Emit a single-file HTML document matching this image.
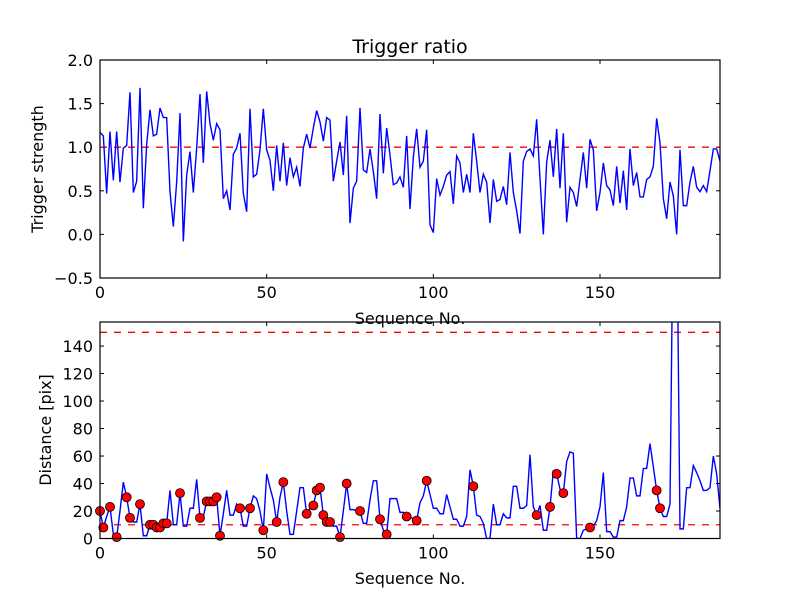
<!DOCTYPE html>
<html><head><meta charset="utf-8">
<style>
html,body{margin:0;padding:0;background:#fff;}
svg{display:block;font-family:"DejaVu Sans","Liberation Sans",sans-serif;}
</style></head>
<body>
<svg id="chart" width="800" height="600" viewBox="0 0 800 600" xmlns="http://www.w3.org/2000/svg">
<rect x="0" y="0" width="800" height="600" fill="#fff"/>
<g id="top"></g>
<g id="bot"></g>
</svg>
<script>
const ratioValues = [1.17,1.13,0.47,1.18,0.62,1.18,0.6,0.99,1.02,1.63,0.48,0.61,1.68,0.3,1.03,1.43,1.13,1.15,1.45,1.34,1.34,0.49,0.09,0.6,1.39,-0.08,0.68,0.95,0.48,0.99,1.61,0.82,1.64,1.27,1.08,1.27,1.2,0.41,0.5,0.28,0.92,0.99,1.16,0.47,0.26,1.44,0.66,0.69,0.97,1.44,0.97,0.85,0.5,1.02,0.61,1.05,0.56,0.88,0.66,0.77,0.55,0.99,1.15,0.99,1.22,1.42,1.29,1.07,1.34,1.31,0.61,0.84,1.06,0.68,1.36,0.13,0.53,0.61,1.45,0.74,0.71,0.98,0.72,0.41,1.38,0.7,1.22,0.91,0.57,0.59,0.66,0.54,1.13,0.29,0.89,1.21,0.77,0.84,1.2,0.11,0.02,0.64,0.45,0.55,0.68,0.72,0.35,0.9,0.82,0.48,0.69,0.48,1.16,0.84,0.48,0.69,0.6,0.13,0.63,0.38,0.4,0.55,0.34,0.94,0.48,0.27,0.01,0.84,0.95,0.98,0.9,1.32,0.64,0.0,0.83,1.08,0.66,1.21,0.53,1.16,0.14,0.54,0.48,0.32,0.63,0.94,0.53,1.09,0.97,0.27,0.48,0.82,0.56,0.51,0.33,0.78,0.36,0.73,0.28,0.98,0.56,0.71,0.43,0.43,0.63,0.66,0.78,1.33,1.05,0.41,0.18,0.6,0.44,0.0,0.97,0.33,0.33,0.6,0.78,0.54,0.49,0.56,0.49,0.73,0.98,0.98,0.84];
const distanceValues = [20,8,16,23,3,1,20,41,30,15,12,12,25,2,2,10,10,8,8,11,11,35,10,10,33,9,9,22,22,43,15,16,27,27,27,30,2,18,35,17,17,25,22,9,9,22,31,29,20,6,47,37,28,12,30,41,20,3,3,20,37,37,18,22,24,35,37,17,12,12,9,9,1,20,40,21,21,20,20,11,11,28,42,42,14,6,3,29,29,29,19,19,16,16,14,13,26,31,42,32,22,22,18,18,32,23,14,14,9,9,16,50,38,17,16,11,0,0,25,10,10,18,15,15,38,38,22,22,24,61,23,17,24,6,6,23,49,47,36,33,56,63,62,0,0,6,7,8,9,13,23,48,5,5,1,1,13,13,23,44,44,31,31,51,51,69,52,35,22,16,16,25,250,250,7,7,37,37,53,48,42,35,35,37,60,47,22];
const detectedIdx = [0,1,3,5,8,9,12,15,16,17,18,19,20,24,30,32,33,34,35,36,42,45,49,53,55,62,64,65,66,67,68,69,72,74,78,84,86,92,95,98,112,131,135,137,139,147,167,168];
const xTicks = [0,50,100,150];
const topYTicks = [-0.5,0.0,0.5,1.0,1.5,2.0];
const botYTicks = [0,20,40,60,80,100,120,140];
const ratioThreshold = 1.0;
const distThresholds = [10,150];

const NS="http://www.w3.org/2000/svg";
function mk(parent,tag,attrs){const e=document.createElementNS(NS,tag);for(const k in attrs)e.setAttribute(k,attrs[k]);parent.appendChild(e);return e;}
const L=100,R=720,XMAX=186;
const sx=v=>L+(v/XMAX)*(R-L);

function panel(g,T,B,ymin,ymax,yTicks,fmt){
  const sy=v=>B-(v-ymin)/(ymax-ymin)*(B-T);
  for(const t of xTicks){
    const x=sx(t);
    let tk=mk(g,'line',{x1:x,x2:x,y1:B,y2:B-4,stroke:'#000'});
    
    tk=mk(g,'line',{x1:x,x2:x,y1:T,y2:T+4,stroke:'#000'});
    
    const tx=mk(g,'text',{x:x,y:B+20,'font-size':16,'text-anchor':'middle'});tx.textContent=t;
    
  }
  for(const t of yTicks){
    const y=sy(t);
    let tk=mk(g,'line',{x1:L,x2:L+4,y1:y,y2:y,stroke:'#000'});
    
    tk=mk(g,'line',{x1:R,x2:R-4,y1:y,y2:y,stroke:'#000'});
    
    const tx=mk(g,'text',{x:L-7,y:y+6,'font-size':16,'text-anchor':'end'});tx.textContent=fmt(t);
    
  }
  return sy;
}

// top panel
const gt=document.getElementById('top');
const T1=60,B1=278;
const sy1=panel(gt,T1,B1,-0.5,2.0,topYTicks,t=>(t<0?'\u22120.5':t.toFixed(1)));
let th=mk(gt,'line',{x1:L,x2:R,y1:sy1(ratioThreshold),y2:sy1(ratioThreshold),stroke:'#f00','stroke-dasharray':'7,7','stroke-width':1.3});

let p=mk(gt,'polyline',{points:ratioValues.map((v,i)=>sx(i)+','+sy1(v)).join(' '),fill:'none',stroke:'#00f','stroke-width':1.4});

let fr=mk(gt,'rect',{x:L,y:T1,width:R-L,height:B1-T1,fill:'none',stroke:'#000','stroke-width':1.2});

let tt=mk(gt,'text',{x:410,y:53,'font-size':19,'text-anchor':'middle'});tt.textContent='Trigger ratio';

let xl=mk(gt,'text',{x:410,y:324,'font-size':16,'text-anchor':'middle'});xl.textContent='Sequence No.';

let yl=mk(gt,'text',{x:0,y:0,'font-size':16,'text-anchor':'middle',transform:'translate(43,169) rotate(-90)'});yl.textContent='Trigger strength';


// bottom panel
const gb=document.getElementById('bot');
const T2=322,B2=538.5,YMAX2=157.5;
const sy2=panel(gb,T2,B2,0,YMAX2,botYTicks,t=>String(t));
for(const d of distThresholds){
  const l=mk(gb,'line',{x1:L,x2:R,y1:sy2(d),y2:sy2(d),stroke:'#f00','stroke-dasharray':'7,7','stroke-width':1.3});
  
}
mk(gb,'clipPath',{id:'clipb'}).appendChild(document.createElementNS(NS,'rect'));
const cr=document.querySelector('#clipb rect');cr.setAttribute('x',L);cr.setAttribute('y',T2);cr.setAttribute('width',R-L);cr.setAttribute('height',B2-T2);
let p2=mk(gb,'polyline',{points:distanceValues.map((v,i)=>sx(i)+','+sy2(v)).join(' '),fill:'none',stroke:'#00f','stroke-width':1.4,'clip-path':'url(#clipb)'});

for(const i of detectedIdx){
  const c=mk(gb,'circle',{cx:sx(i),cy:sy2(distanceValues[i]),r:4.5,fill:'#f00',stroke:'#000','stroke-width':0.8});
  
  
}
let fr2=mk(gb,'rect',{x:L,y:T2,width:R-L,height:B2-T2,fill:'none',stroke:'#000','stroke-width':1.2});

let xl2=mk(gb,'text',{x:410,y:584,'font-size':16,'text-anchor':'middle'});xl2.textContent='Sequence No.';

let yl2=mk(gb,'text',{x:0,y:0,'font-size':16,'text-anchor':'middle',transform:'translate(51,430) rotate(-90)'});yl2.textContent='Distance [pix]';

</script>
</body></html>
